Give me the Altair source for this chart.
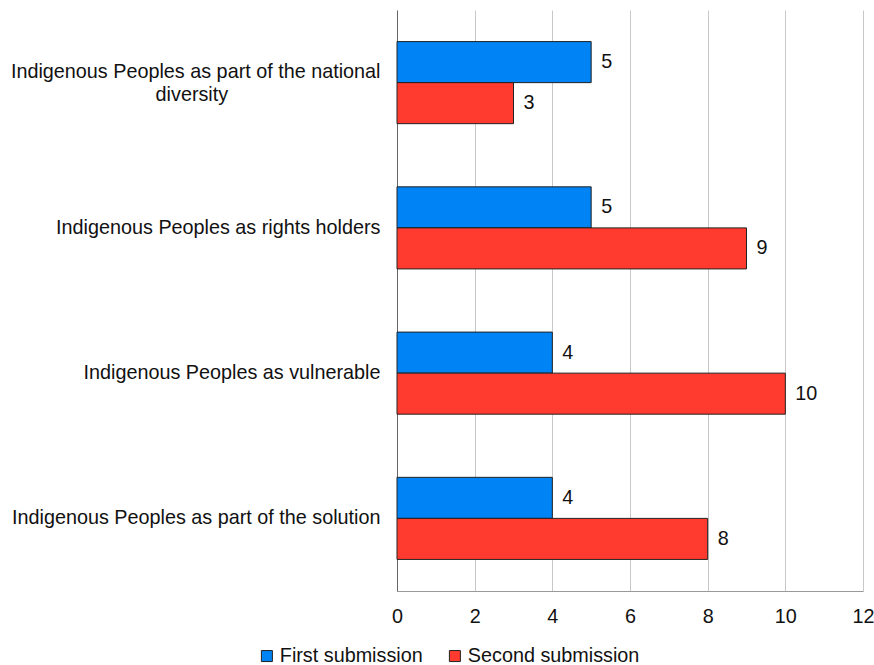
import altair as alt
import pandas as pd

categories = [
    "Indigenous Peoples as part of the national diversity",
    "Indigenous Peoples as rights holders",
    "Indigenous Peoples as vulnerable",
    "Indigenous Peoples as part of the solution",
]
series = ["First submission", "Second submission"]
first_values = [5, 5, 4, 4]
second_values = [3, 9, 10, 8]
colors = ["#0084F5", "#FF3B2F"]

rows = []
for cat, a, b in zip(categories, first_values, second_values):
    rows.append({"category": cat, "series": series[0], "value": a})
    rows.append({"category": cat, "series": series[1], "value": b})
df = pd.DataFrame(rows)

FONT = "Liberation Sans"
FS = 19.8
# trailing no-break spaces (kept by a zero-width space) centre the second line
pad = "\u00a0" * 27 + "\u2009\u200b"
two_line = "datum.value == '" + categories[0] + "'"
label_expr = (
    two_line + " ? "
    "['Indigenous Peoples as part of the national', 'diversity" + pad + "'] : datum.value"
)

y_enc = alt.Y(
    "category:N",
    sort=categories,
    title=None,
    scale=alt.Scale(paddingInner=0.435, paddingOuter=0.2175),
    axis=alt.Axis(
        labelExpr=label_expr,
        labelFont=FONT,
        labelFontSize=FS,
        labelColor="#111",
        labelPadding=17,
        labelLineHeight=23,
        labelOffset={"condition": {"test": two_line, "value": -11}, "value": 0},
        ticks=False,
        domainColor="#666",
        domainWidth=1,
        grid=False,
        labelLimit=420,
    ),
)
y_off = alt.YOffset("series:N", sort=series)
x_enc = alt.X(
    "value:Q",
    title=None,
    scale=alt.Scale(domain=[0, 12], nice=False),
    axis=alt.Axis(
        values=[0, 2, 4, 6, 8, 10, 12],
        labelFont=FONT,
        labelFontSize=FS,
        labelColor="#111",
        labelPadding=15,
        labelFlush=False,
        ticks=False,
        domainColor="#999",
        gridColor="#c8c8c8",
        gridWidth=1,
    ),
)

bars = alt.Chart(df).mark_bar(stroke="#222", strokeWidth=1).encode(
    x=x_enc,
    y=y_enc,
    yOffset=y_off,
    color=alt.Color(
        "series:N",
        sort=series,
        scale=alt.Scale(domain=series, range=colors),
        legend=alt.Legend(
            title=None,
            orient="none",
            direction="horizontal",
            legendX=-140,
            legendY=636,
            symbolType="square",
            symbolSize=121,
            symbolStrokeColor="#222",
            symbolStrokeWidth=1,
            labelFont=FONT,
            labelFontSize=FS,
            labelColor="#111",
            labelOffset=3,
            labelLimit=300,
            columnPadding=22,
        ),
    ),
)

labels = alt.Chart(df).mark_text(
    align="left", baseline="middle", dx=10, font=FONT, fontSize=FS, color="#111"
).encode(
    x="value:Q",
    y=alt.Y("category:N", sort=categories),
    yOffset=y_off,
    text="value:Q",
)

chart = (
    alt.layer(bars, labels)
    .properties(
        width=466,
        height=581,
        background="white",
        autosize=alt.AutoSizeParams(type="none"),
        padding={"left": 397, "top": 10, "right": 11, "bottom": 74},
    )
    .configure_view(strokeWidth=0, stroke="transparent")
)

chart.save("out.html", embed_options={"renderer": "svg", "actions": False})
